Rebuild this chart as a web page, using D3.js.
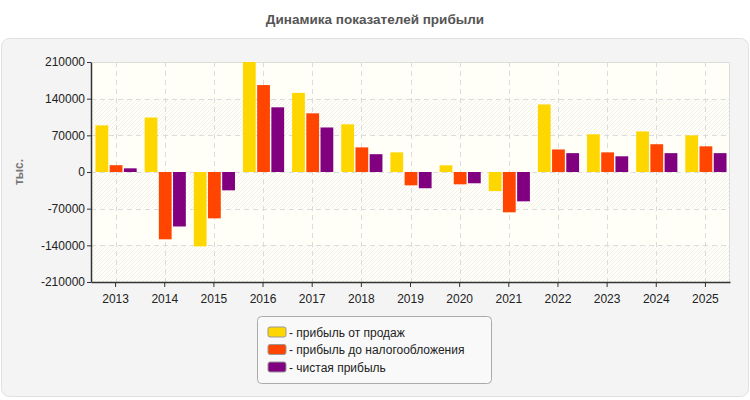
<!DOCTYPE html>
<html>
<head>
<meta charset="utf-8">
<script src="https://cdn.jsdelivr.net/npm/d3@7"></script>
<style>
    body { margin: 0; background: #fff; font-family: "Liberation Sans", Arial, sans-serif; }
</style>
</head>
<body>
<svg id="chart" width="750" height="400"></svg>
<script>
"use strict";

const years = ["2013", "2014", "2015", "2016", "2017", "2018", "2019",
    "2020", "2021", "2022", "2023", "2024", "2025"];
const salesProfit = [89000, 104000, -142000, 210000, 151000, 91000, 37500,
    12800, -36500, 129000, 72000, 77500, 70000];
const preTaxProfit = [13000, -128500, -88500, 166000, 112000, 47000, -25500,
    -23500, -77000, 43000, 37500, 53000, 49000];
const netProfit = [7000, -104000, -35000, 123500, 85000, 34000, -31000,
    -21500, -56000, 36000, 30000, 36000, 36000];
const seriesNames = ["- прибыль от продаж", "- прибыль до налогообложения", "- чистая прибыль"];
const yTicks = [-210000, -140000, -70000, 0, 70000, 140000, 210000];

const colors = ["#ffd700", "#ff4500", "#800080"];
const series = [salesProfit, preTaxProfit, netProfit];

const svg = d3.select("#chart");
const m = { left: 91, right: 730, top: 62, bottom: 282 };

// panel
svg.append("rect")
    .attr("x", 1.5).attr("y", 38.5).attr("width", 747).attr("height", 358)
    .attr("rx", 8).attr("fill", "#f4f4f4").attr("stroke", "#e0e0e0");

svg.append("text")
    .attr("x", 375).attr("y", 24).attr("text-anchor", "middle")
    .attr("font-size", 13.5).attr("font-weight", "bold").attr("fill", "#555")
    .text("Динамика показателей прибыли");

const x = d3.scaleBand().domain(years).range([m.left, m.right]);
const xs = d3.scaleBand().domain(d3.range(series.length))
    .range([0, x.bandwidth()]).paddingOuter(0.28).paddingInner(0.1);
const y = d3.scaleLinear().domain([-210000, 210000]).range([m.bottom, m.top]);

const defs = svg.append("defs");
defs.append("pattern")
    .attr("id", "hatch").attr("patternUnits", "userSpaceOnUse")
    .attr("width", 4).attr("height", 4)
    .call(p => {
        p.append("rect").attr("width", 4).attr("height", 4).attr("fill", "#fffff8");
        p.append("path").attr("d", "M-1,1 l2,-2 M0,4 l4,-4 M3,5 l2,-2")
            .attr("stroke", "#f0f0ee").attr("stroke-width", 1);
    });

// plot background with alternating hatched bands
svg.append("rect")
    .attr("x", m.left).attr("y", m.top)
    .attr("width", m.right - m.left).attr("height", m.bottom - m.top)
    .attr("fill", "#fffff8");
svg.append("g").selectAll("rect")
    .data(d3.pairs(yTicks).filter((d, i) => i % 2 === 0))
    .join("rect")
    .attr("x", m.left).attr("width", m.right - m.left)
    .attr("y", d => y(d[1])).attr("height", d => y(d[0]) - y(d[1]))
    .attr("fill", "url(#hatch)");

// grid
const grid = svg.append("g").attr("stroke", "#dcdcdc").attr("stroke-dasharray", "5,4");
grid.selectAll(".h").data(yTicks.slice(1, -1)).join("line")
    .attr("x1", m.left).attr("x2", m.right)
    .attr("y1", d => Math.round(y(d)) + 0.5).attr("y2", d => Math.round(y(d)) + 0.5);
grid.selectAll(".v").data(years).join("line")
    .attr("x1", d => Math.round(x(d) + x.bandwidth() / 2) + 0.5)
    .attr("x2", d => Math.round(x(d) + x.bandwidth() / 2) + 0.5)
    .attr("y1", m.top).attr("y2", m.bottom);
svg.append("path")
    .attr("d", `M${m.left},${m.top + 0.5}H${m.right - 0.5}V${m.bottom}`)
    .attr("fill", "none").attr("stroke", "#dcdcdc");

// bars
svg.append("g").selectAll("g")
    .data(series)
    .join("g")
    .attr("fill", (d, i) => colors[i])
    .each(function (vals, si) {
        d3.select(this).selectAll("rect")
            .data(vals)
            .join("rect")
            .attr("x", (d, i) => x(years[i]) + xs(si) + 0.5)
            .attr("width", xs.bandwidth())
            .attr("y", d => y(Math.max(0, d)))
            .attr("height", d => Math.abs(y(d) - y(0)));
    });

// axes
const yAxis = svg.append("g")
    .attr("transform", `translate(${m.left},0)`)
    .call(d3.axisLeft(y).tickValues(yTicks).tickSize(4).tickSizeOuter(0)
        .tickFormat(d => String(d)));
const xAxis = svg.append("g")
    .attr("transform", `translate(0,${m.bottom})`)
    .call(d3.axisBottom(x).tickSize(5).tickSizeOuter(0));
[yAxis, xAxis].forEach(a => {
    a.select(".domain").attr("stroke", "#333").attr("stroke-width", 1.5);
    a.selectAll(".tick line").attr("stroke", "#333");
    a.selectAll("text").attr("font-size", 12)
        .attr("font-family", "'Liberation Sans', Arial, sans-serif").attr("fill", "#222");
});
yAxis.selectAll("text").attr("x", -6);
xAxis.selectAll("text").attr("dy", "1.1em");

svg.append("text")
    .attr("transform", "translate(23,172) rotate(-90)")
    .attr("text-anchor", "middle").attr("font-size", 12)
    .attr("font-weight", "bold").attr("fill", "#777")
    .text("тыс.");

// legend
const lg = svg.append("g");
lg.append("rect")
    .attr("x", 257.5).attr("y", 316.5).attr("width", 234).attr("height", 67)
    .attr("rx", 4).attr("fill", "#f9f9f9").attr("stroke", "#aaa");
const items = lg.selectAll("g").data(seriesNames).join("g")
    .attr("transform", (d, i) => `translate(268,${327 + i * 17.5})`);
items.append("rect")
    .attr("width", 18).attr("height", 10).attr("rx", 2)
    .attr("fill", (d, i) => colors[i]).attr("stroke", "#999");
items.append("text")
    .attr("x", 21).attr("y", 9.5).attr("font-size", 12).attr("fill", "#222")
    .text(d => d);
</script>
</body>
</html>
